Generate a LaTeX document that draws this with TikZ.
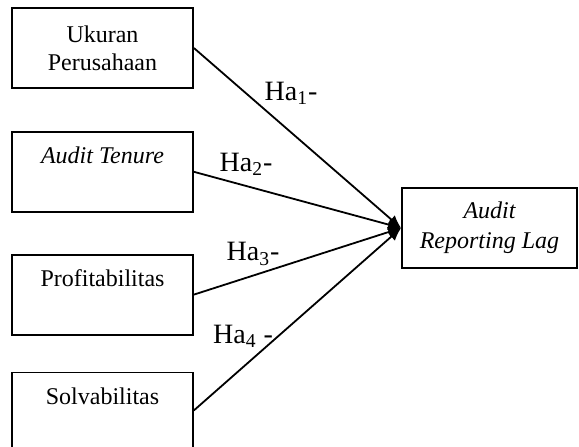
\documentclass[tikz,border=0pt]{standalone}
\usepackage{fontspec}
\setmainfont{Liberation Serif}
\usetikzlibrary{arrows.meta,positioning}
\tikzset{
  vblk/.style={rectangle, draw=black, line width=0.9pt, align=center,
               font=\fontsize{12}{14}\selectfont, minimum width=90.5pt, minimum height=40pt, inner sep=0pt},
  toptxt/.style={text height=16pt, text depth=24pt},
  varr/.style={-{Latex[length=6.5pt,width=5.5pt]}, line width=0.9pt},
  vlbl/.style={font=\fontsize{14}{16}\selectfont, inner sep=0pt},
}

\begin{document}
\begin{tikzpicture}[x=0.5pt, y=-0.5pt, node distance=20pt]
            \useasboundingbox (0,0) rectangle (579,446);
            \node[vblk](a) at (102.5,48){Ukuran\\Perusahaan};
            \node[vblk,toptxt,below=21pt of a](b){\textit{Audit Tenure}};
            \node[vblk,toptxt,below=20.5pt of b](c){Profitabilitas};
            \node[vblk,toptxt,below=18pt of c,minimum height=38pt,text depth=22pt](d){Solvabilitas};
            \node[vblk,minimum width=87.5pt,font=\fontsize{12}{15}\selectfont\itshape](r) at (489.5,228){Audit\\Reporting Lag};
            % hypothesis labels
            \node[vlbl](h1) at (291,93){Ha\textsubscript{1}-};
            \node[vlbl](h2) at (246,164){Ha\textsubscript{2}-};
            \node[vlbl](h3) at (253,254){Ha\textsubscript{3}-};
            \node[vlbl](h4) at (243,336){Ha\textsubscript{4} -};
            \draw[varr](a.east)--(r.west);\draw[varr](b.east)--(r.west);\draw[varr](c.east)--(r.west);\draw[varr](d.east)--(r.west);
        \end{tikzpicture}
\end{document}
